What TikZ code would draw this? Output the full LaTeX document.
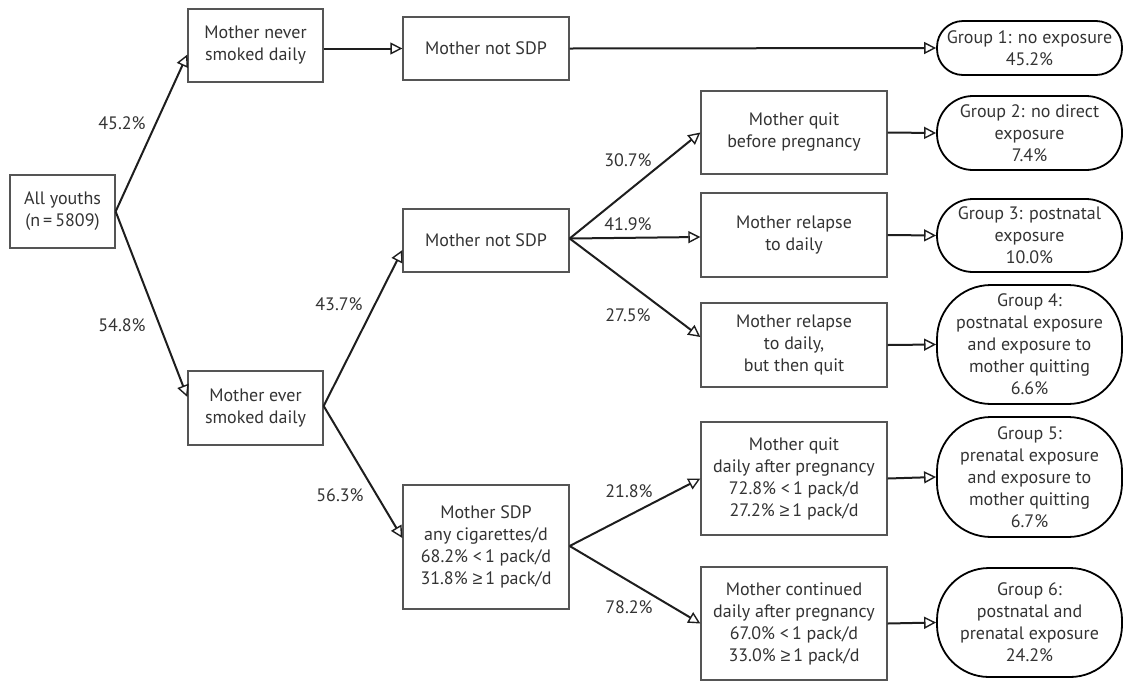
\documentclass[tikz,border=0pt]{standalone}
\usepackage{fontspec}
\setmainfont{PT Sans}
\newfontfamily\symf{Liberation Sans}
\newcommand{\geqsym}{{\symf ≥}}
\usetikzlibrary{arrows.meta,calc}
\definecolor{txt}{HTML}{333333}
\definecolor{boxline}{HTML}{555555}
\definecolor{conn}{HTML}{1E1E1E}
\tikzset{
  base/.style={font=\fontsize{18}{22}\selectfont, text=txt, align=center, inner sep=0pt},
  sbox/.style={base, draw=boxline, line width=1.3pt, rectangle},
  gbox/.style={base, draw=black, line width=1.8pt, rectangle, minimum width=185pt},
  pct/.style={base},
  conn/.style={draw=conn, line width=2pt, -{Triangle[open, length=12pt, width=12pt, line width=1.4pt]}},
}
\begin{document}
\begin{tikzpicture}[x=1pt, y=-1pt]
\useasboundingbox (0,0) rectangle (1124,681);
% left column
\node[sbox, minimum width=105pt, minimum height=73pt] (all) at (62.5,211.5) {All youths\\(n\,=\,5809)};
\node[sbox, minimum width=135pt, minimum height=73pt] (never) at (255.5,45.5) {Mother never\\smoked daily};
\node[sbox, minimum width=135pt, minimum height=74pt] (ever) at (255.5,408) {Mother ever\\smoked daily};
% middle column
\node[sbox, minimum width=166pt, minimum height=63pt] (nsdp1) at (486,48.5) {Mother not SDP};
\node[sbox, minimum width=166pt, minimum height=63pt] (nsdp2) at (486,240.5) {Mother not SDP};
\node[sbox, minimum width=166pt, minimum height=124pt] (sdp) at (486,547) {Mother SDP\\any cigarettes/d\\68.2\% <\,1 pack/d\\31.8\% \geqsym\,1 pack/d};
% right column
\node[sbox, minimum width=186pt, minimum height=83pt] (qb) at (794,132.5) {Mother quit\\before pregnancy};
\node[sbox, minimum width=186pt, minimum height=84pt] (rel) at (794,235) {Mother relapse\\to daily};
\node[sbox, minimum width=186pt, minimum height=84pt] (relq) at (794,345) {Mother relapse\\to daily,\\but then quit};
\node[sbox, minimum width=186pt, minimum height=113pt] (qa) at (794,478.5) {Mother quit\\daily after pregnancy\\72.8\% <\,1 pack/d\\27.2\% \geqsym\,1 pack/d};
\node[sbox, minimum width=186pt, minimum height=113pt] (cont) at (794,623.5) {Mother continued\\daily after pregnancy\\67.0\% <\,1 pack/d\\33.0\% \geqsym\,1 pack/d};
% groups
\node[gbox, minimum height=54pt, rounded corners=26pt] (g1) at (1029.5,48) {Group 1: no exposure\\45.2\%};
\node[gbox, minimum height=74pt, rounded corners=36pt] (g2) at (1029.5,133) {Group 2: no direct\\exposure\\7.4\%};
\node[gbox, minimum height=73pt, rounded corners=36pt] (g3) at (1029.5,235.5) {Group 3: postnatal\\exposure\\10.0\%};
\node[gbox, minimum height=119pt, rounded corners=54pt] (g4) at (1029.5,344.5) {Group 4:\\postnatal exposure\\and exposure to\\mother quitting\\6.6\%};
\node[gbox, minimum height=120pt, rounded corners=54pt] (g5) at (1029.5,477) {Group 5:\\prenatal exposure\\and exposure to\\mother quitting\\6.7\%};
\node[gbox, minimum height=109pt, rounded corners=52pt] (g6) at (1029.5,622.5) {Group 6:\\postnatal and\\prenatal exposure\\24.2\%};
% connectors
\draw[conn] (all.east) -- ($(never.west)+(0,9)$);
\draw[conn] (all.east) -- ($(ever.west)+(0,-11)$);
\draw[conn] (never.east |- nsdp1.west) -- (nsdp1.west);
\draw[conn] (nsdp1.east) -- (g1.west);
\draw[conn] ($(ever.east)+(0,-2)$) -- ($(nsdp2.west)+(0,9.5)$);
\draw[conn] ($(ever.east)+(0,-2)$) -- ($(sdp.west)+(0,-9)$);
\draw[conn] ($(nsdp2.east)+(0,-2)$) -- (qb.west);
\draw[conn] ($(nsdp2.east)+(0,-2)$) -- ($(rel.west)+(0,2)$);
\draw[conn] ($(nsdp2.east)+(0,-2)$) -- ($(relq.west)+(0,-8)$);
\draw[conn] ($(sdp.east)+(0,-1)$) -- (qa.west);
\draw[conn] ($(sdp.east)+(0,-1)$) -- (cont.west);
\draw[conn] (qb.east) -- (g2.west);
\draw[conn] (rel.east) -- (g3.west);
\draw[conn] (relq.east) -- (g4.west);
\draw[conn] (qa.east) -- (g5.west);
\draw[conn] (cont.east) -- (g6.west);
% percentages
\node[pct] (p1) at (122,123) {45.2\%};
\node[pct] (p2) at (122,325) {54.8\%};
\node[pct] (p3) at (339,304) {43.7\%};
\node[pct] (p4) at (340,495) {56.3\%};
\node[pct] (p5) at (628,160) {30.7\%};
\node[pct] (p6) at (628,224) {41.9\%};
\node[pct] (p7) at (628,315) {27.5\%};
\node[pct] (p8) at (629,491) {21.8\%};
\node[pct] (p9) at (629,607) {78.2\%};
\end{tikzpicture}
\end{document}
